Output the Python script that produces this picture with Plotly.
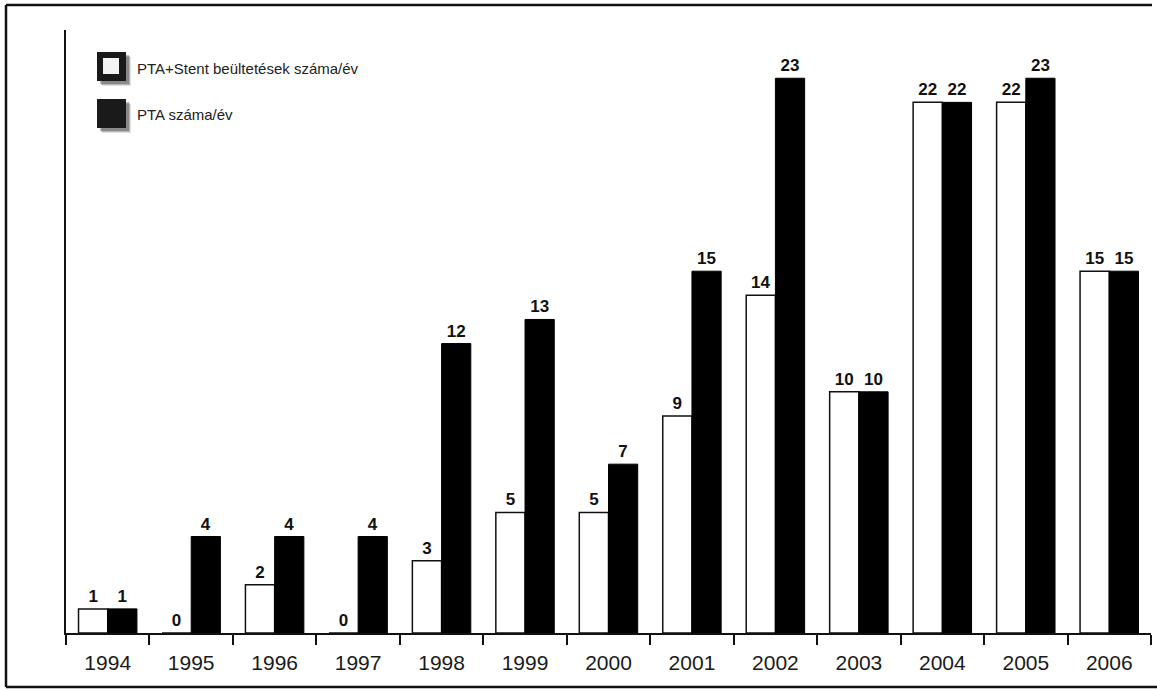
import plotly.graph_objects as go

years = ["1994", "1995", "1996", "1997", "1998", "1999", "2000",
         "2001", "2002", "2003", "2004", "2005", "2006"]
pta_stent = [1, 0, 2, 0, 3, 5, 5, 9, 14, 10, 22, 22, 15]
pta = [1, 4, 4, 4, 12, 13, 7, 15, 23, 10, 22, 23, 15]
legend_labels = ["PTA+Stent beültetések száma/év", "PTA száma/év"]

W, H = 1157, 691
ML, MR, MT, MB = 66, 6, 30, 58
PW, PH = W - ML - MR, H - MT - MB


def px(x):
    return (x - ML) / PW


def py(y):
    return (H - MB - y) / PH


label_font = dict(family="Liberation Sans, Arial, sans-serif", size=17,
                  color="#111")

fig = go.Figure()
fig.add_trace(go.Bar(
    x=years, y=pta_stent, name=legend_labels[0],
    marker=dict(color="white", line=dict(color="#111", width=1.5)),
    text=[str(v) for v in pta_stent], textposition="outside",
    textfont=label_font, texttemplate="<b>%{text}</b>",
    cliponaxis=False,
))
fig.add_trace(go.Bar(
    x=years, y=pta, name=legend_labels[1],
    marker=dict(color="black", line=dict(color="black", width=1)),
    text=[str(v) for v in pta], textposition="outside",
    textfont=label_font, texttemplate="<b>%{text}</b>",
    cliponaxis=False,
))

shapes = []
# outer frame (open on the right)
frame = dict(type="line", xref="paper", yref="paper",
             line=dict(color="#111", width=2.5))
shapes.append({**frame, "x0": px(6), "x1": px(1152), "y0": py(5), "y1": py(5)})
shapes.append({**frame, "x0": px(6), "x1": px(6), "y0": py(5), "y1": py(687)})
shapes.append({**frame, "x0": px(6), "x1": px(1157), "y0": py(687), "y1": py(687)})

# legend swatches with soft drop shadows
def swatch(x0, y0, size, hollow):
    out = []
    for off, op in ((5, 0.12), (4, 0.18), (3, 0.25)):
        out.append(dict(type="rect", xref="paper", yref="paper",
                        x0=px(x0 + off), x1=px(x0 + size + off),
                        y0=py(y0 + off), y1=py(y0 + size + off),
                        fillcolor=f"rgba(0,0,0,{op})", line=dict(width=0),
                        layer="above"))
    out.append(dict(type="rect", xref="paper", yref="paper",
                    x0=px(x0), x1=px(x0 + size), y0=py(y0), y1=py(y0 + size),
                    fillcolor="#1a1a1a", line=dict(width=0), layer="above"))
    if hollow:
        out.append(dict(type="rect", xref="paper", yref="paper",
                        x0=px(x0 + 6), x1=px(x0 + size - 7),
                        y0=py(y0 + 6), y1=py(y0 + size - 7),
                        fillcolor="#f4f4f4", line=dict(width=0),
                        layer="above"))
    return out


shapes += swatch(97, 52, 29, True)
shapes += swatch(97, 99, 29, False)

legend_font = dict(family="Liberation Sans, Arial, sans-serif", size=15,
                   color="#222")
annotations = [
    dict(x=px(135), y=py(68), xref="paper", yref="paper",
         text=legend_labels[0], showarrow=False, xanchor="left",
         yanchor="middle", font=legend_font),
    dict(x=px(135), y=py(114), xref="paper", yref="paper",
         text=legend_labels[1], showarrow=False, xanchor="left",
         yanchor="middle", font=legend_font),
]

fig.update_layout(
    width=W, height=H,
    margin=dict(l=ML, r=MR, t=MT, b=MB),
    paper_bgcolor="white", plot_bgcolor="white",
    barmode="group", bargap=0.3, bargroupgap=0,
    showlegend=False,
    shapes=shapes, annotations=annotations,
    xaxis=dict(
        type="category", showline=True, linecolor="#111", linewidth=2,
        ticks="outside", tickson="boundaries", ticklen=10, tickwidth=2,
        tickcolor="#111", showgrid=False, zeroline=False,
        ticklabelstandoff=10,
        tickfont=dict(family="Liberation Sans, Arial, sans-serif", size=21,
                      color="#1a1a1a"),
    ),
    yaxis=dict(
        range=[0, 25], showline=True, linecolor="#111", linewidth=2,
        showticklabels=False, ticks="", showgrid=False, zeroline=False,
    ),
)

fig.write_html("out.html")
